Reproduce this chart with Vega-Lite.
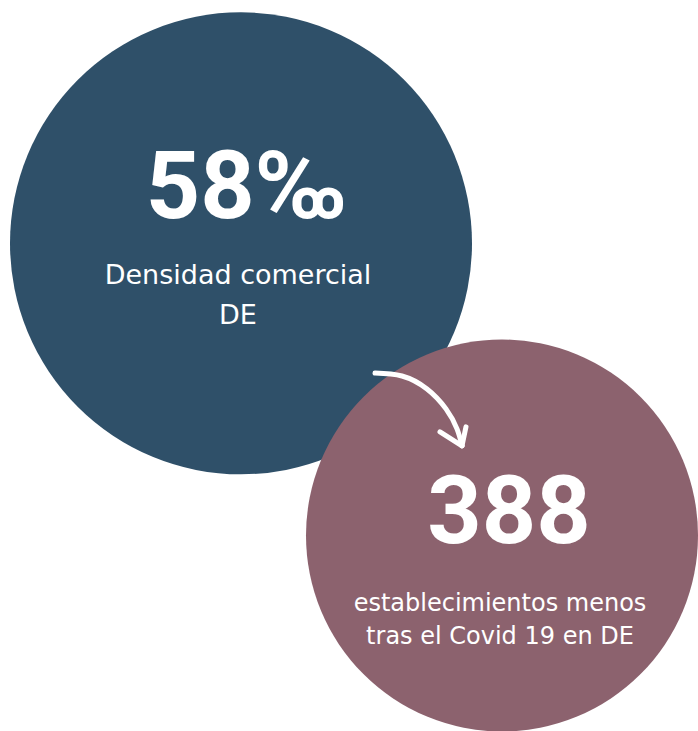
{
  "$schema": "https://vega.github.io/schema/vega-lite/v6.json",
  "width": 698,
  "height": 731,
  "autosize": {"type": "fit", "contains": "padding"},
  "padding": 0,
  "background": "#ffffff",
  "config": {"view": {"stroke": null}},
  "datasets": {
    "circles": [
      {"name": "Densidad", "cx": 241, "cy": 244, "r": 231, "color": "blue"},
      {"name": "Covid", "cx": 502, "cy": 537, "r": 196, "color": "mauve"}
    ],
    "texts": [
      {"label": "58‰", "tx": 246, "ty": 219, "kind": "big"},
      {"label": "Densidad comercial", "tx": 238, "ty": 285, "kind": "small1"},
      {"label": "DE", "tx": 238, "ty": 325, "kind": "small1"},
      {"label": "388", "tx": 509, "ty": 544, "kind": "big"},
      {"label": "establecimientos menos", "tx": 500, "ty": 613, "kind": "small2"},
      {"label": "tras el Covid 19 en DE", "tx": 500, "ty": 646, "kind": "small2"}
    ],
    "arrow": [
      {"part": "shaft", "order": 1, "ax": 375, "ay": 374},
      {"part": "shaft", "order": 2, "ax": 402, "ay": 377},
      {"part": "shaft", "order": 3, "ax": 427, "ay": 390},
      {"part": "shaft", "order": 4, "ax": 446, "ay": 410},
      {"part": "shaft", "order": 5, "ax": 457, "ay": 430},
      {"part": "shaft", "order": 6, "ax": 462, "ay": 447},
      {"part": "left", "order": 1, "ax": 440, "ay": 433},
      {"part": "left", "order": 2, "ax": 462, "ay": 447},
      {"part": "right", "order": 1, "ax": 466, "ay": 428},
      {"part": "right", "order": 2, "ax": 462, "ay": 447}
    ]
  },
  "layer": [
    {
      "data": {"name": "circles"},
      "mark": {"type": "point", "shape": "circle", "filled": true, "opacity": 1, "strokeWidth": 0},
      "encoding": {
        "x": {"field": "cx", "type": "quantitative", "scale": {"domain": [0, 698], "nice": false, "zero": false}, "axis": null},
        "y": {"field": "cy", "type": "quantitative", "scale": {"domain": [0, 731], "nice": false, "zero": false, "reverse": true}, "axis": null},
        "size": {"field": "r", "type": "quantitative", "scale": {"type": "pow", "exponent": 2, "domain": [0, 231], "range": [0, 213444]}, "legend": null},
        "color": {"field": "color", "type": "nominal", "scale": {"domain": ["blue", "mauve"], "range": ["#2f5069", "#8c626e"]}, "legend": null},
        "order": {"field": "cy", "type": "quantitative"}
      }
    },
    {
      "data": {"name": "arrow"},
      "mark": {"type": "line", "color": "#ffffff", "strokeWidth": 5, "strokeCap": "round", "strokeJoin": "round", "interpolate": "natural"},
      "encoding": {
        "x": {"field": "ax", "type": "quantitative", "scale": {"domain": [0, 698], "nice": false, "zero": false}, "axis": null},
        "y": {"field": "ay", "type": "quantitative", "scale": {"domain": [0, 731], "nice": false, "zero": false, "reverse": true}, "axis": null},
        "detail": {"field": "part", "type": "nominal"},
        "order": {"field": "order", "type": "quantitative"}
      }
    },
    {
      "data": {"name": "texts"},
      "transform": [{"filter": "datum.kind == 'big'"}],
      "mark": {"type": "text", "font": "Roboto", "fontWeight": "bold", "fontSize": 95, "color": "#ffffff", "align": "center", "baseline": "alphabetic"},
      "encoding": {
        "x": {"field": "tx", "type": "quantitative", "scale": {"domain": [0, 698], "nice": false, "zero": false}, "axis": null},
        "y": {"field": "ty", "type": "quantitative", "scale": {"domain": [0, 731], "nice": false, "zero": false, "reverse": true}, "axis": null},
        "text": {"field": "label", "type": "nominal"}
      }
    },
    {
      "data": {"name": "texts"},
      "transform": [{"filter": "datum.kind == 'small1'"}],
      "mark": {"type": "text", "font": "DejaVu Sans", "fontSize": 27, "color": "#ffffff", "align": "center", "baseline": "alphabetic"},
      "encoding": {
        "x": {"field": "tx", "type": "quantitative", "scale": {"domain": [0, 698], "nice": false, "zero": false}, "axis": null},
        "y": {"field": "ty", "type": "quantitative", "scale": {"domain": [0, 731], "nice": false, "zero": false, "reverse": true}, "axis": null},
        "text": {"field": "label", "type": "nominal"}
      }
    },
    {
      "data": {"name": "texts"},
      "transform": [{"filter": "datum.kind == 'small2'"}],
      "mark": {"type": "text", "font": "DejaVu Sans", "fontSize": 24, "color": "#ffffff", "align": "center", "baseline": "alphabetic"},
      "encoding": {
        "x": {"field": "tx", "type": "quantitative", "scale": {"domain": [0, 698], "nice": false, "zero": false}, "axis": null},
        "y": {"field": "ty", "type": "quantitative", "scale": {"domain": [0, 731], "nice": false, "zero": false, "reverse": true}, "axis": null},
        "text": {"field": "label", "type": "nominal"}
      }
    }
  ]
}
